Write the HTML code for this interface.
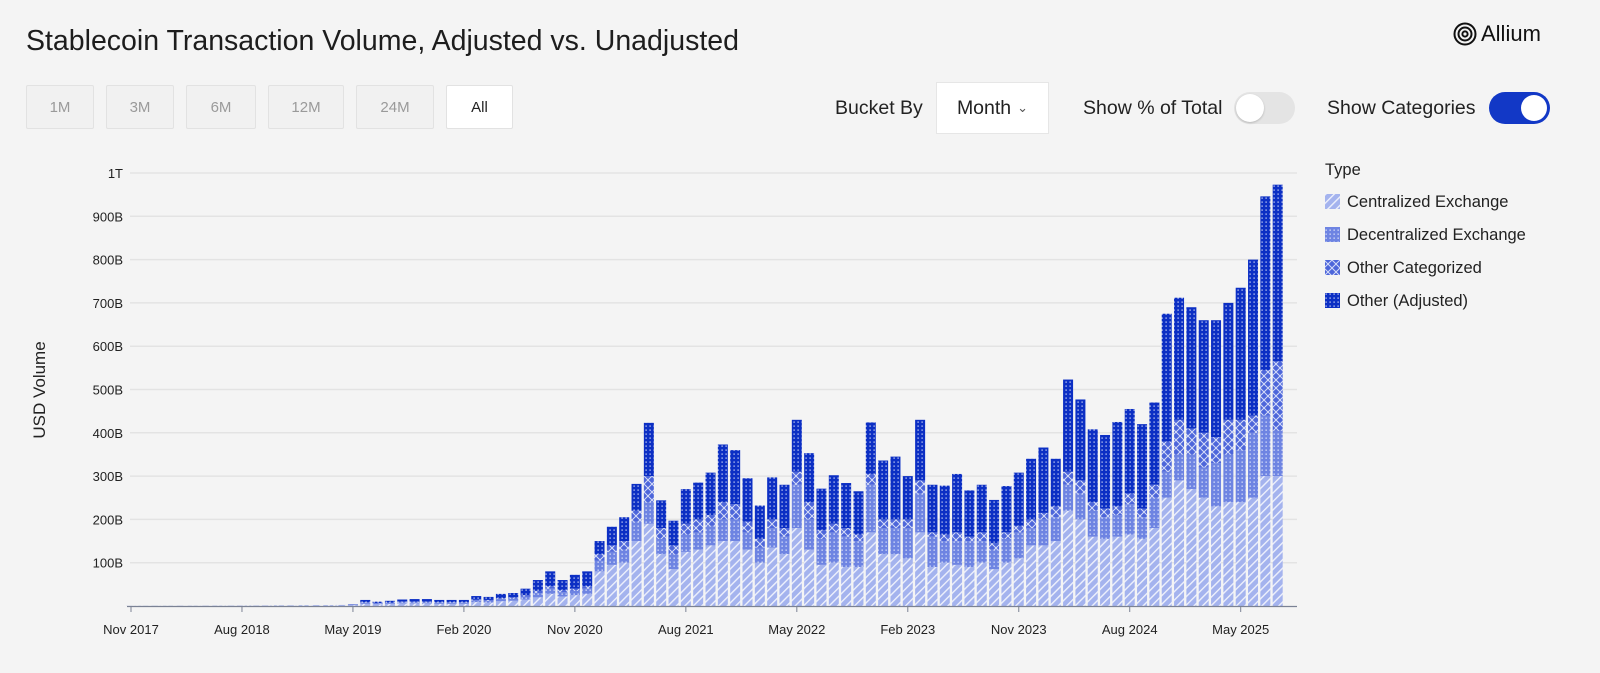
<!DOCTYPE html>
<html><head><meta charset="utf-8"><style>
body{margin:0;background:#f4f4f4;font-family:"Liberation Sans",sans-serif;width:1600px;height:673px;overflow:hidden;position:relative;color:#222}
.abs{position:absolute}
.btn{position:absolute;top:85px;height:44px;border:1px solid #e2e2e2;background:#f1f1f1;color:#9a9a9a;font-size:15px;display:flex;align-items:center;justify-content:center;box-sizing:border-box;border-radius:2px}
.lbl{position:absolute;font-size:19.5px;color:#222}
</style></head><body>
<div class="abs" style="left:26px;top:25px;font-size:28.5px;color:#1d1d1d">Stablecoin Transaction Volume, Adjusted vs. Unadjusted</div>
<div class="abs" style="left:1453px;top:21px;display:flex;align-items:center;font-size:22px;color:#111">
<svg width="24" height="24" viewBox="0 0 24 24"><circle cx="12" cy="12" r="10.5" fill="none" stroke="#111" stroke-width="2"/><circle cx="12" cy="12" r="6.5" fill="none" stroke="#111" stroke-width="2"/><circle cx="12" cy="12" r="2.6" fill="none" stroke="#111" stroke-width="2"/></svg><span style="margin-left:4px">Allium</span></div>
<div class="btn" style="left:26px;width:68px">1M</div>
<div class="btn" style="left:106px;width:68px">3M</div>
<div class="btn" style="left:186px;width:70px">6M</div>
<div class="btn" style="left:268px;width:76px">12M</div>
<div class="btn" style="left:356px;width:78px">24M</div>
<div class="btn" style="left:446px;width:67px;background:#fff;color:#222">All</div>
<div class="lbl" style="left:835px;top:97px">Bucket By</div>
<div class="abs" style="left:936px;top:82px;width:113px;height:52px;background:#fff;border:1px solid #e6e6e6;box-sizing:border-box;font-size:19.5px;display:flex;align-items:center;justify-content:center">Month <span style="font-size:13px;margin-left:6px;color:#555">&#8964;</span></div>
<div class="lbl" style="left:1083px;top:97px">Show % of Total</div>
<div class="abs" style="left:1234px;top:92px;width:61px;height:32px;border-radius:16px;background:#e4e4e4"><div style="position:absolute;left:2px;top:2px;width:28px;height:28px;border-radius:50%;background:#fff;box-shadow:0 1px 2px rgba(0,0,0,.2)"></div></div>
<div class="lbl" style="left:1327px;top:97px">Show Categories</div>
<div class="abs" style="left:1489px;top:92px;width:61px;height:32px;border-radius:16px;background:#1238c6"><div style="position:absolute;right:3px;top:3px;width:26px;height:26px;border-radius:50%;background:#fff"></div></div>

<svg id="chart" class="abs" style="left:0;top:0" width="1600" height="673">
<defs>
<pattern id="pCex" width="6" height="6" patternUnits="userSpaceOnUse" patternTransform="rotate(45)"><rect width="6" height="6" fill="#a4b3ee"/><rect x="0" width="1.4" height="6" fill="#eef1fc"/></pattern>
<pattern id="pDex" width="4" height="4" patternUnits="userSpaceOnUse"><rect width="4" height="4" fill="#6e84e2"/><rect x="1.5" y="1.5" width="1.3" height="1.3" fill="#dfe5fa"/></pattern>
<pattern id="pOc" width="8" height="8" patternUnits="userSpaceOnUse"><rect width="8" height="8" fill="#4d66da"/><path d="M0 0L8 8M8 0L0 8" stroke="#d6ddf8" stroke-width="1"/></pattern>
<pattern id="pOth" width="4" height="4" patternUnits="userSpaceOnUse"><rect width="4" height="4" fill="#0c2fc4"/><rect x="1.5" y="1.5" width="1.2" height="1.2" fill="#e8ecfb"/></pattern>
</defs>
<g id="grid"></g><g id="bars"></g><g id="axes"></g>
<text x="45" y="390" transform="rotate(-90 45 390)" text-anchor="middle" font-size="17" fill="#222">USD Volume</text>
<g>
<text x="1325" y="175" font-size="16.5" fill="#222">Type</text>
</g>
<g id="legend"></g>
</svg>
<script>
const cex=[0.3,0.4,0.5,0.5,0.6,0.6,0.7,0.8,0.8,0.9,1,1.2,1.5,1.5,1.8,2,2,2.5,
2,5,4,5,6,6,6,5,5,5,9,8,11,12,15,20,28,22,25,28,80,95,100,150,190,120,85,125,130,140,150,150,130,100,135,120,180,130,95,100,90,90,170,120,120,110,170,90,100,95,90,100,85,100,110,140,140,150,220,200,160,155,160,165,155,180,250,290,270,250,230,240,240,250,300,300];
const dex=[0,0,0,0,0,0,0,0,0,0,0,0,0,0,0,0,0,0,
1,3,2,2,3,3,3,3,3,3,4,4,5,5,7,10,12,10,10,12,25,30,30,45,50,35,35,40,40,45,50,50,40,35,45,40,100,70,60,70,70,60,110,60,60,70,90,70,50,55,60,50,45,55,60,40,60,55,60,60,60,50,50,70,50,70,60,60,80,70,100,110,120,150,140,105];
const oc=[0,0,0,0,0,0,0,0,0,0,0,0,0,0,0,0,0,0,
0.3,1,1,1,1,1,1,1,1,1,2,2,2,3,3,5,6,5,5,6,15,15,20,25,60,25,20,25,30,25,40,35,25,20,20,20,30,40,20,20,20,15,25,20,20,20,30,10,15,20,10,20,15,15,15,20,15,25,30,30,20,20,20,25,20,30,70,80,60,80,60,80,70,40,105,160];
const oth=[0,0,0,0,0,0,0,0,0,0,0,0,0,0,0,0,0,0,
0.7,5,3,4,5,6,6,5,5,5,8,7,10,10,15,25,34,23,32,34,30,43,55,62,123,64,57,80,85,98,133,125,100,77,97,100,120,113,96,112,104,100,119,136,145,100,140,110,113,135,107,110,100,107,123,140,151,110,213,187,168,170,195,195,195,190,295,282,280,260,270,270,305,360,401,408];
const yTicks=[100,200,300,400,500,600,700,800,900,1000];
const yTickLabels=["100B","200B","300B","400B","500B","600B","700B","800B","900B","1T"];
const xTickIdx=[0,9,18,27,36,45,54,63,72,81,90];
const xTickLabels=["Nov 2017","Aug 2018","May 2019","Feb 2020","Nov 2020","Aug 2021","May 2022","Feb 2023","Nov 2023","Aug 2024","May 2025"];
const legendNames=["Centralized Exchange","Decentralized Exchange","Other Categorized","Other (Adjusted)"];

const NS="http://www.w3.org/2000/svg";
const y0=606, pxPer=0.433;
const yS=v=>y0-v*pxPer;
const xS=i=>131+i*12.33;
function mk(tag,attrs,parent){const e=document.createElementNS(NS,tag);for(const k in attrs)e.setAttribute(k,attrs[k]);parent.appendChild(e);return e;}
const grid=document.getElementById('grid'),bars=document.getElementById('bars'),axes=document.getElementById('axes'),leg=document.getElementById('legend');
yTicks.forEach((v,k)=>{
 const l=mk('line',{x1:130,x2:1297,y1:yS(v),y2:yS(v),stroke:'#e3e3e3','stroke-width':1.5},grid);
 
 
 const t=mk('text',{x:123,y:yS(v)+5,'text-anchor':'end','font-size':13,fill:'#222'},axes);
 t.textContent=yTickLabels[k];
 
 
});
const base=mk('line',{x1:127,x2:1297,y1:y0+0.5,y2:y0+0.5,stroke:'#7b8294','stroke-width':1.2},axes);


xTickIdx.forEach((ix,k)=>{
 mk('line',{x1:xS(ix),x2:xS(ix),y1:y0,y2:y0+6,stroke:'#7b8294'},axes);
 const t=mk('text',{x:xS(ix),y:634,'text-anchor':'middle','font-size':13,fill:'#222'},axes);
 t.textContent=xTickLabels[k];
 
 
});
const series=[cex,dex,oc,oth],fills=['url(#pCex)','url(#pDex)','url(#pOc)','url(#pOth)'],names=['bar-cex','bar-dex','bar-other-categorized','bar-other-adjusted'];
for(let i=0;i<cex.length;i++){
 let acc=0;
 series.forEach((s,j)=>{
  const v=s[i]; if(v<=0)return;
  const r=mk('rect',{x:xS(i)-5,width:10,y:yS(acc+v),height:v*pxPer,fill:fills[j]},bars);
  
  
  acc+=v;
 });
}
legendNames.forEach((n,j)=>{
 const y=194+j*33;
 const r=mk('rect',{x:1325,y:y,width:15,height:15,fill:fills[j]},leg);
 
 
 const t=mk('text',{x:1347,y:y+13,'font-size':16.5,fill:'#222'},leg);
 t.textContent=n;
 
 
});
</script>
</body></html>
